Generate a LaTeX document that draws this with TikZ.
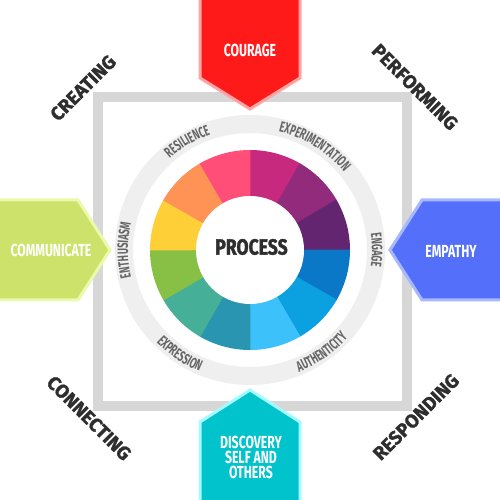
\documentclass[tikz,border=0pt]{standalone}
\usepackage{fontspec}
\setmainfont{Fira Sans}[BoldFeatures={FakeBold=1.3}]
\newfontfamily\condfont{Fira Sans}[FakeStretch=0.7]
\newfontfamily\ringfam{Fira Sans}[FakeStretch=0.62]
\newfontfamily\procfam{Fira Sans}[FakeStretch=0.8, BoldFeatures={FakeBold=1.6}]
\usetikzlibrary{decorations.text}
\definecolor{sqgray}{HTML}{D7D7D7}
\definecolor{ringgray}{HTML}{EFEFEF}
\definecolor{ringtext}{HTML}{666666}
\definecolor{darktext}{HTML}{2E2E2E}
\definecolor{cA}{HTML}{C7297F}
\definecolor{cB}{HTML}{922B7B}
\definecolor{cC}{HTML}{632570}
\definecolor{cD}{HTML}{0A77C7}
\definecolor{cE}{HTML}{0BA0E0}
\definecolor{cF}{HTML}{3DC1FB}
\definecolor{cG}{HTML}{2995B0}
\definecolor{cH}{HTML}{45AF98}
\definecolor{cI}{HTML}{88C045}
\definecolor{cJ}{HTML}{FFCF38}
\definecolor{cK}{HTML}{FF9356}
\definecolor{cL}{HTML}{FF4F78}
\definecolor{redfill}{HTML}{FF1A1A}
\definecolor{redline}{HTML}{FFA5A5}
\definecolor{greenfill}{HTML}{CDE26A}
\definecolor{greenline}{HTML}{EAFAAD}
\definecolor{bluefill}{HTML}{5470FA}
\definecolor{blueline}{HTML}{A8B8FF}
\definecolor{tealfill}{HTML}{00C3CB}
\definecolor{tealline}{HTML}{A5FBFF}
\tikzset{
  pent/.style={line width=3pt, line join=miter},
  boxtext/.style={text=white, font=\condfont\bfseries\fontsize{17.5}{15}\selectfont, inner sep=0pt, align=center},
  cornertext/.style={text=darktext, font=\bfseries\fontsize{19}{22}\selectfont, inner sep=0pt},
  ringword/.style={decorate, decoration={text along path, text align=center, text color=ringtext,
      text={|\ringfam\bfseries\fontsize{15}{16}\selectfont|#1}}},
}
\begin{document}
\begin{tikzpicture}[x=1pt,y=1pt]
\useasboundingbox (0,0) rectangle (500,500);
\fill[white] (0,0) rectangle (500,500);
\begin{scope}
\clip (0,0) rectangle (500,500);
% frame
\draw[sqgray, line width=10pt] (97.5,93.5) rectangle (406.5,402.5);
% ring
\draw[ringgray, line width=18pt] (250,250) circle (126);
% wheel
\foreach \a/\c [evaluate=\a as \s using \a-0.25] in {60/cA,30/cB,0/cC,-30/cD,-60/cE,-90/cF,-120/cG,-150/cH,180/cI,150/cJ,120/cK,90/cL}
  \fill[\c] (250,250) -- ++(\s:100) arc[start angle=\s, delta angle=30.5, radius=100] -- cycle;
\fill[white] (250,250) circle (54);
\node[text=darktext, font=\procfam\bfseries\fontsize{22}{24}\selectfont, inner sep=0pt] (proc) at (251.5,253) {PROCESS};
% ring words
\path[ringword=RESILIENCE] (250,250) ++(150:122) arc[start angle=150, end angle=90, radius=122];
\path[ringword=EXPERIMENTATION] (250,250) ++(100:122) arc[start angle=100, end angle=16, radius=122];
\path[ringword=ENGAGE] (250,250) ++(40:122) arc[start angle=40, end angle=-40, radius=122];
\path[ringword=ENTHUSIASM] (250,250) ++(220:122) arc[start angle=220, end angle=140, radius=122];
\path[ringword=AUTHENTICITY] (250,250) ++(-100:131.5) arc[start angle=-100, end angle=-10, radius=131.5];
\path[ringword=EXPRESSION] (250,250) ++(-164:131.5) arc[start angle=-164, end angle=-84, radius=131.5];
% pentagons
\filldraw[pent, fill=redfill, draw=redline] (200,505) -- (200,422) -- (250,391) -- (300,422) -- (300,505) -- cycle;
\filldraw[pent, fill=tealfill, draw=tealline] (200,-5) -- (200,78) -- (250,110) -- (300,78) -- (300,-5) -- cycle;
\filldraw[pent, fill=greenfill, draw=greenline] (-5,300) -- (78,300) -- (110,250) -- (78,200) -- (-5,200) -- cycle;
\filldraw[pent, fill=bluefill, draw=blueline] (505,300) -- (422,300) -- (390,250) -- (422,200) -- (505,200) -- cycle;
\node[boxtext] (courage) at (250,449.5) {COURAGE};
\node[boxtext] (communicate) at (51,250) {COMMUNICATE};
\node[boxtext] (empathy) at (451,249) {EMPATHY};
\node[boxtext] (discovery) at (251,43) {DISCOVERY\\SELF AND\\OTHERS};
% corners
\node[cornertext, rotate=45] (creating) at (83,412) {CREATING};
\node[cornertext, rotate=-45] (performing) at (415,413) {PERFORMING};
\node[cornertext, rotate=-45] (connecting) at (89,82) {CONNECTING};
\node[cornertext, rotate=45] (responding) at (416,83) {RESPONDING};
\end{scope}
\end{tikzpicture}
\end{document}
